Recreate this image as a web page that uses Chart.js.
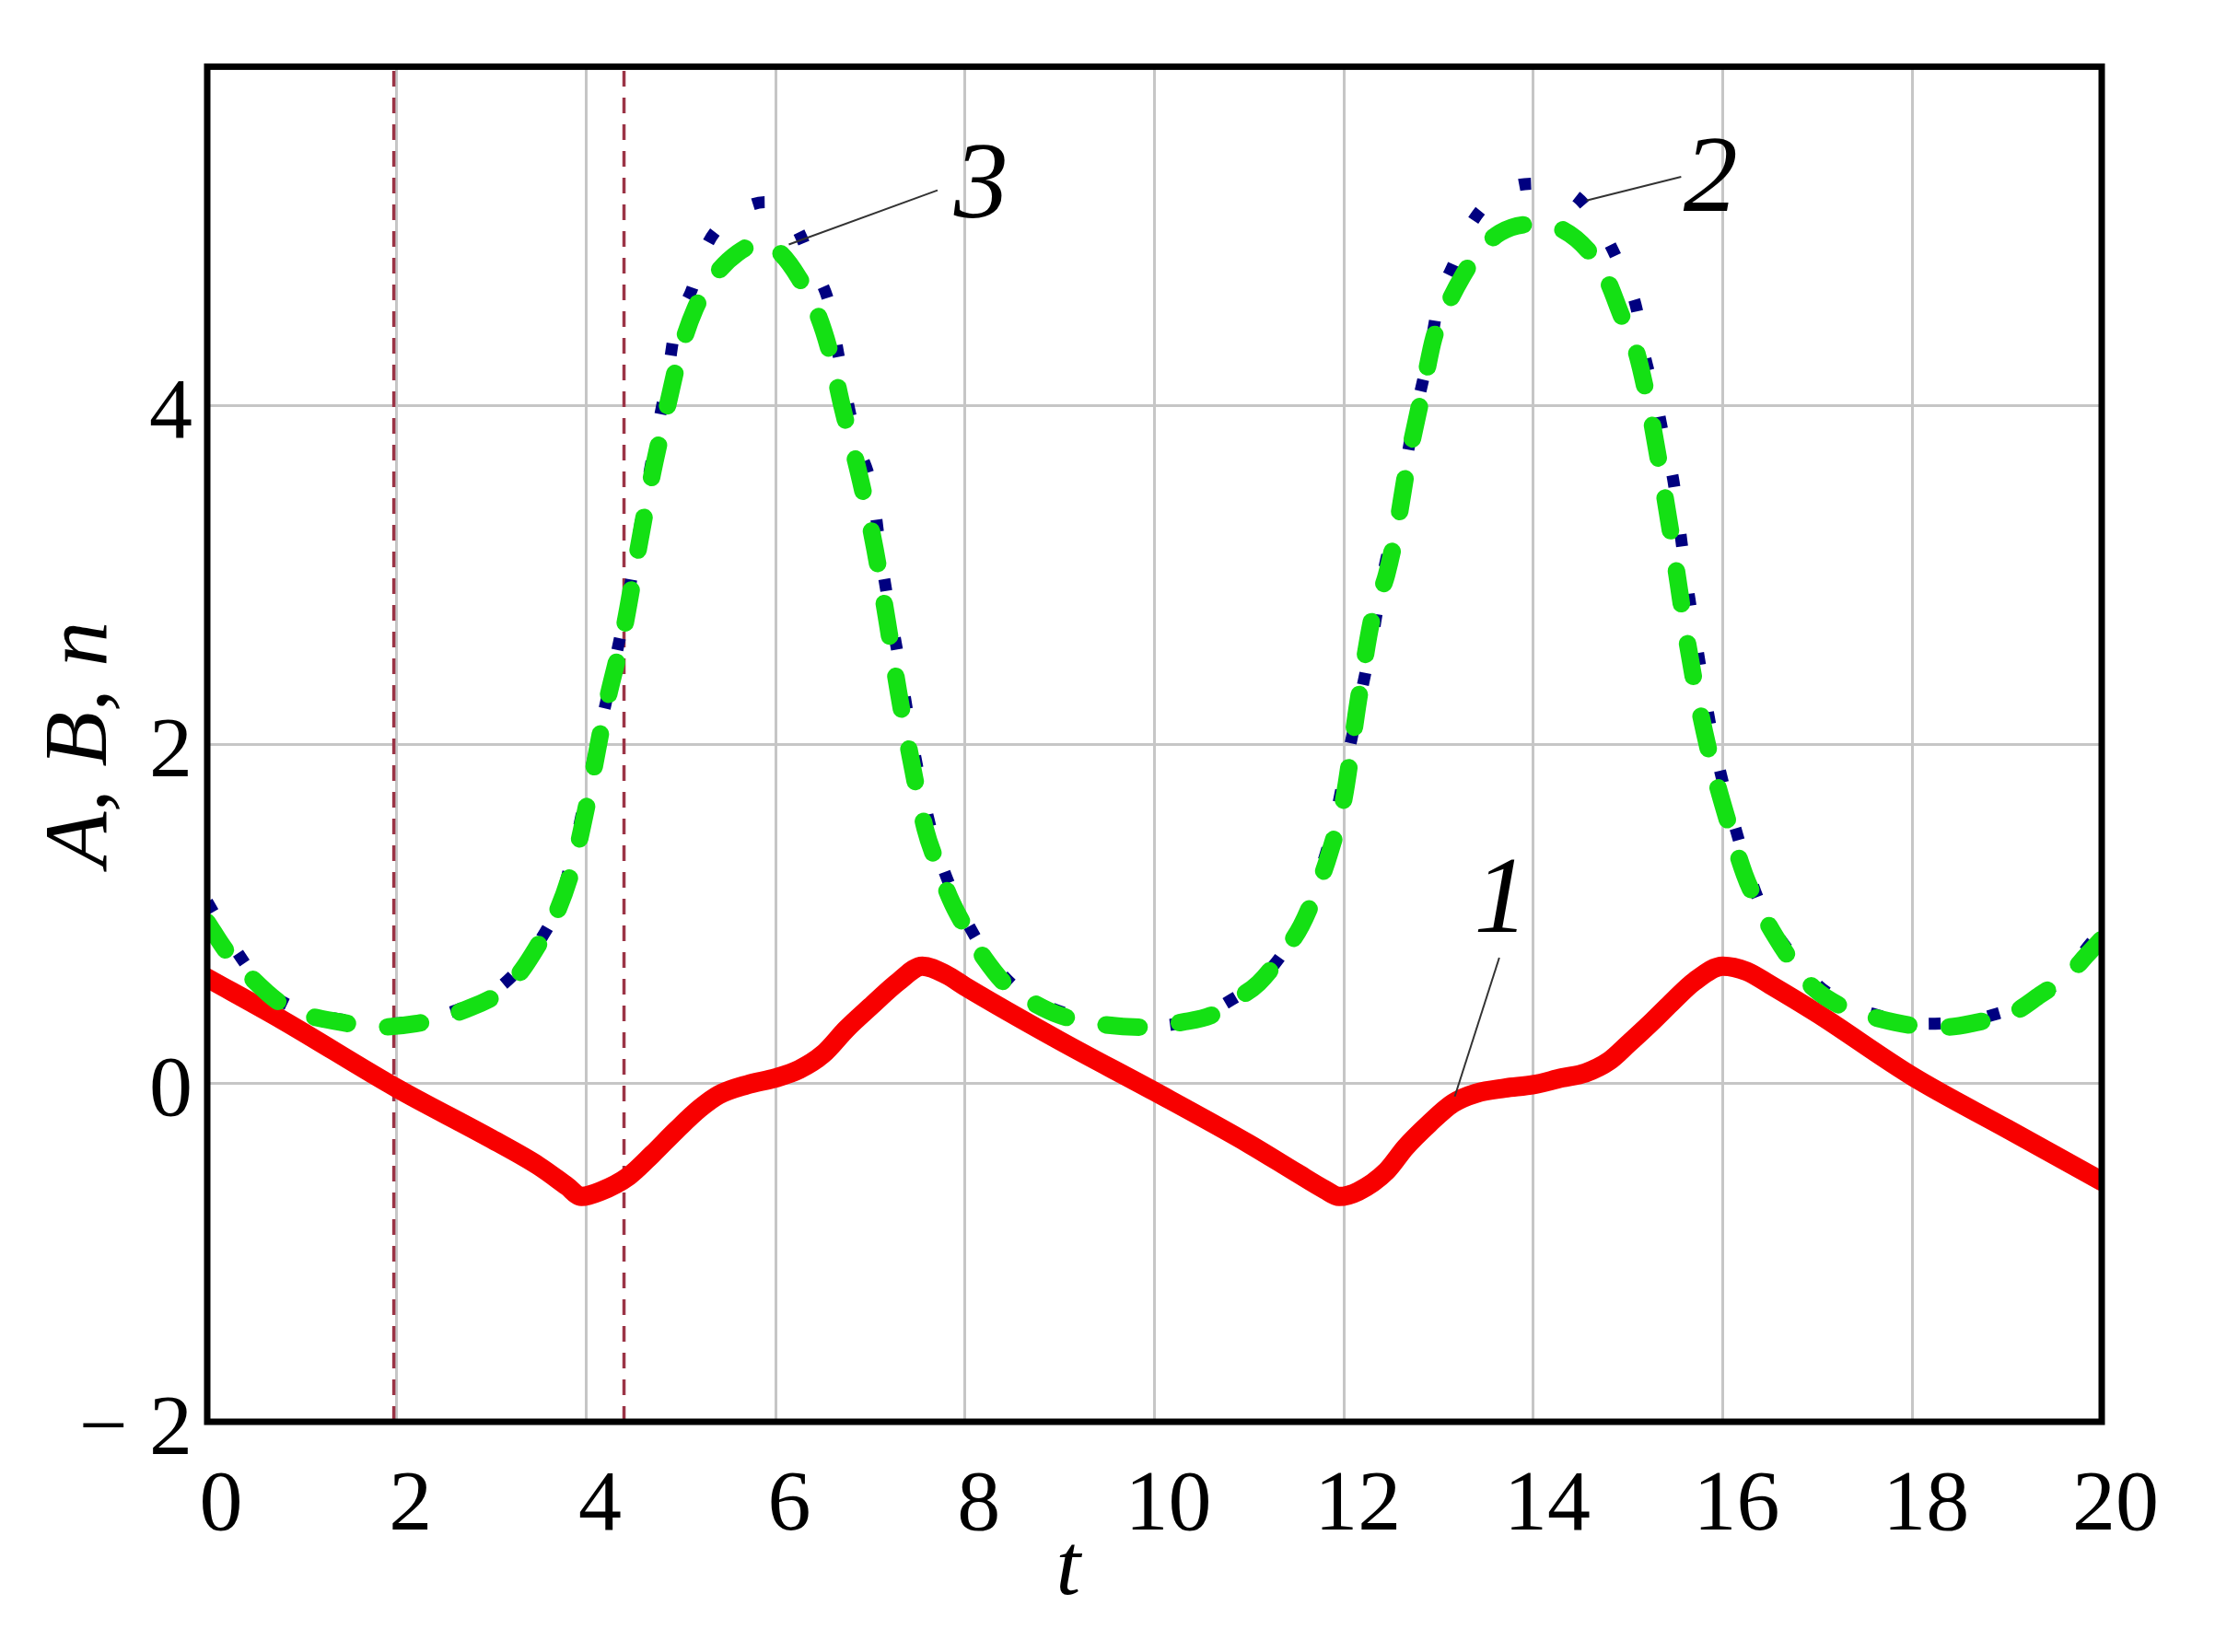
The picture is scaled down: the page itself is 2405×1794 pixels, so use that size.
<!DOCTYPE html>
<html>
<head>
<meta charset="utf-8">
<title>A, B, n (t)</title>
<script src="https://cdn.jsdelivr.net/npm/chart.js@4.4.1/dist/chart.umd.min.js"></script>
<style>
  body { margin: 0; background: #fff; }
  canvas { display: block; }
</style>
</head>
<body>
<canvas id="chart-abn" width="2405" height="1794"></canvas>
<script>
//=================================================================
// DATA
//=================================================================

// curve 1 - red solid
const t1 = [0, 0.8, 2.0, 3.0, 3.5, 3.8, 3.95, 4.15, 4.45, 4.7, 4.95, 5.2, 5.4, 5.7, 6.0, 6.25, 6.5, 6.75, 7.0, 7.3, 7.55,
            7.8, 8.0, 9.0, 10.0, 11.0, 11.5, 11.8, 11.95, 12.15, 12.45, 12.65, 12.9, 13.15, 13.4, 13.7, 14.0, 14.3, 14.55, 14.8,
            15.0, 15.25, 15.45, 15.7, 16.0, 16.25, 16.5, 17.0, 18.0, 19.0, 20.0];
const curve1 = [0.62, 0.37, -0.03, -0.33, -0.49, -0.61, -0.67, -0.64, -0.55, -0.42, -0.28, -0.15, -0.07, -0.01, 0.03, 0.08, 0.17, 0.32, 0.45, 0.60, 0.69,
                0.64, 0.57, 0.25, -0.05, -0.36, -0.53, -0.63, -0.67, -0.64, -0.52, -0.38, -0.24, -0.12, -0.06, -0.03, -0.01, 0.03, 0.06, 0.13,
                0.23, 0.36, 0.47, 0.60, 0.69, 0.66, 0.58, 0.41, 0.04, -0.27, -0.58];

// curve 2 - navy dotted
const t2 = [0, 0.24, 0.5, 0.71, 1.0, 1.47, 1.9, 2.3, 2.68, 3.0, 3.27, 3.5, 3.72, 3.9, 4.05, 4.25, 4.45, 4.6, 4.75, 4.86,
            4.93, 5.12, 5.27, 5.52, 5.89, 6.19, 6.4, 6.58, 6.66, 6.85, 7.02, 7.13, 7.3, 7.45, 7.64, 7.85, 8.05, 8.25, 8.5, 8.8,
            9.2, 9.6, 10.08, 10.5, 10.81, 11.1, 11.36, 11.6, 11.75, 11.89, 12.05, 12.2, 12.3, 12.43, 12.56, 12.71, 12.91, 13.0,
            13.17, 13.32, 13.63, 14.03, 14.46, 14.71, 14.91, 15.09, 15.17, 15.29, 15.38, 15.48, 15.54, 15.6, 15.75, 15.9, 16.14,
            16.4, 16.71, 17.0, 17.33, 17.7, 18.05, 18.5, 18.9, 19.28, 19.6, 19.89, 20];
const curve2 = [1.07, 0.84, 0.63, 0.51, 0.43, 0.37, 0.35, 0.38, 0.44, 0.53, 0.66, 0.83, 1.07, 1.45, 1.85, 2.35, 2.89, 3.39, 3.85, 4.17,
                4.42, 4.69, 4.94, 5.11, 5.20, 5.08, 4.82, 4.57, 4.31, 3.80, 3.50, 3.04, 2.50, 2.00, 1.50, 1.15, 0.92, 0.74, 0.58, 0.47,
                0.39, 0.35, 0.34, 0.40, 0.49, 0.60, 0.77, 1.00, 1.25, 1.52, 1.95, 2.35, 2.62, 3.05, 3.34, 3.83, 4.34, 4.61,
                4.85, 5.05, 5.25, 5.31, 5.23, 5.05, 4.83, 4.57, 4.31, 4.05, 3.80, 3.55, 3.30, 3.04, 2.50, 2.02, 1.49,
                1.05, 0.77, 0.58, 0.46, 0.39, 0.35, 0.36, 0.41, 0.49, 0.63, 0.83, 0.90];

// curve 3 - green dashed
const t3 = [0, 0.2, 0.45, 0.75, 1.0, 1.4, 1.8, 2.2, 2.5, 2.8, 3.05, 3.3, 3.5, 3.7, 3.87, 4.0, 4.2, 4.4, 4.55, 4.7,
            4.86, 5.0, 5.15, 5.35, 5.6, 5.85, 6.05, 6.25, 6.45, 6.58, 6.7, 6.9, 7.05, 7.18, 7.3, 7.45, 7.58, 7.7, 7.85, 8.0,
            8.2, 8.45, 8.7, 9.0, 9.4, 9.85, 10.3, 10.6, 10.85, 11.1, 11.35, 11.55, 11.72, 11.85, 12.0, 12.15, 12.3, 12.45,
            12.55, 12.68, 12.83, 12.95, 13.1, 13.25, 13.4, 13.65, 14.0, 14.3, 14.6, 14.78, 14.93, 15.07, 15.2, 15.34, 15.45,
            15.53, 15.62, 15.75, 15.9, 16.05, 16.23, 16.4, 16.55, 16.75, 16.96, 17.3, 17.65, 18.0, 18.35, 18.7, 19.05, 19.35,
            19.65, 19.85, 20];
const curve3 = [0.95, 0.78, 0.63, 0.48, 0.41, 0.36, 0.33, 0.35, 0.39, 0.45, 0.52, 0.65, 0.82, 1.02, 1.30, 1.62, 2.20, 2.68, 3.15, 3.60,
                4.00, 4.33, 4.57, 4.76, 4.90, 4.96, 4.90, 4.75, 4.53, 4.30, 4.00, 3.55, 3.15, 2.72, 2.30, 1.85, 1.50, 1.30, 1.08, 0.92,
                0.74, 0.57, 0.48, 0.40, 0.35, 0.33, 0.36, 0.40, 0.49, 0.59, 0.76, 0.93, 1.15, 1.36, 1.68, 2.25, 2.75, 3.00,
                3.25, 3.68, 4.08, 4.40, 4.60, 4.76, 4.89, 5.02, 5.07, 5.04, 4.90, 4.74, 4.53, 4.35, 4.05, 3.62, 3.25,
                2.95, 2.62, 2.22, 1.85, 1.55, 1.23, 1.02, 0.87, 0.70, 0.56, 0.44, 0.38, 0.34, 0.33, 0.36, 0.41, 0.52,
                0.64, 0.76, 0.85];

// vertical dashed markers
const markerT = [1.97, 4.4];

// axes
const xTicks = [0, 2, 4, 6, 8, 10, 12, 14, 16, 18, 20];
const yTicks = [-2, 0, 2, 4, 6];
const yTickLabels = ['\u2212 2', '0', '2', '4', ''];

// curve labels: [text, label t, label value, leader start t, start value, leader end t, end value]
const curveLabels = [
    ['1', 13.66, 1.06, 13.64, 0.74, 13.17, -0.08],
    ['2', 15.87, 5.32, 15.56, 5.35, 14.56, 5.21],
    ['3', 8.17, 5.28, 7.71, 5.27, 6.14, 4.95]
];

//=================================================================
// CHART
//=================================================================
const SERIF = '"Liberation Serif", "Times New Roman", serif';
const pts = (xs, ys) => xs.map((x, i) => ({ x: x, y: ys[i] }));

const frameAndLabels = {
    id: 'frameAndLabels',
    afterDraw(chart) {
        const { ctx, chartArea: a, scales: { x, y } } = chart;
        ctx.save();
        // frame
        ctx.strokeStyle = '#000';
        ctx.lineWidth = 7;
        ctx.strokeRect(a.left, a.top, a.right - a.left, a.bottom - a.top);
        // leader lines + curve numbers
        ctx.strokeStyle = '#333';
        ctx.lineWidth = 2;
        ctx.fillStyle = '#000';
        ctx.font = 'italic 118px ' + SERIF;
        ctx.textAlign = 'center';
        ctx.textBaseline = 'middle';
        curveLabels.forEach(l => {
            ctx.beginPath();
            ctx.moveTo(x.getPixelForValue(l[3]), y.getPixelForValue(l[4]));
            ctx.lineTo(x.getPixelForValue(l[5]), y.getPixelForValue(l[6]));
            ctx.stroke();
            ctx.fillText(l[0], x.getPixelForValue(l[1]), y.getPixelForValue(l[2]));
        });
        // x axis title
        ctx.font = 'italic 96px ' + SERIF;
        ctx.fillText('t', x.getPixelForValue(9.09), y.getPixelForValue(-2.88));
        ctx.restore();
    }
};

const markerSets = markerT.map(t => ({
    label: 't = ' + t,
    data: [{ x: t, y: -2 }, { x: t, y: 6 }],
    borderColor: '#9b3446',
    borderWidth: 3.5,
    borderDash: [17, 12],
    pointRadius: 0
}));

new Chart(document.getElementById('chart-abn'), {
    type: 'line',
    data: {
        datasets: [
            {
                label: '3',
                data: pts(t3, curve3),
                borderColor: '#14e014',
                borderWidth: 19,
                borderDash: [36, 44],
                borderCapStyle: 'round',
                cubicInterpolationMode: 'monotone',
                pointRadius: 0
            },
            {
                label: '2',
                data: pts(t2, curve2),
                borderColor: '#000080',
                borderWidth: 13,
                borderDash: [13, 52],
                borderCapStyle: 'butt',
                cubicInterpolationMode: 'monotone',
                pointRadius: 0
            },
            {
                label: '1',
                data: pts(t1, curve1),
                borderColor: '#f80000',
                borderWidth: 21,
                borderCapStyle: 'round',
                borderJoinStyle: 'round',
                cubicInterpolationMode: 'monotone',
                pointRadius: 0
            },
            ...markerSets
        ]
    },
    options: {
        responsive: false,
        devicePixelRatio: 1,
        animation: false,
        layout: { padding: { top: 66, right: 123, left: 0, bottom: 0 } },
        plugins: {
            legend: { display: false },
            tooltip: { enabled: false }
        },
        scales: {
            x: {
                type: 'linear',
                min: 0,
                max: 20,
                afterBuildTicks: s => { s.ticks = xTicks.map(v => ({ value: v })); },
                afterFit: s => { s.height = 250; },
                ticks: {
                    color: '#000',
                    font: { family: SERIF, size: 94 },
                    padding: 36,
                    labelOffset: 15,
                    maxRotation: 0,
                    autoSkip: false
                },
                grid: { color: '#c6c6c6', lineWidth: 3, drawTicks: false },
                border: { display: false }
            },
            y: {
                type: 'linear',
                min: -2,
                max: 6,
                afterBuildTicks: s => { s.ticks = yTicks.map(v => ({ value: v })); },
                afterFit: s => { s.width = 225; },
                ticks: {
                    color: '#000',
                    font: { family: SERIF, size: 94 },
                    padding: 16,
                    labelOffset: 10,
                    callback: v => yTickLabels[yTicks.indexOf(v)]
                },
                grid: { color: '#c6c6c6', lineWidth: 3, drawTicks: false },
                border: { display: false },
                title: {
                    display: true,
                    text: 'A, B, n',
                    color: '#000',
                    font: { family: SERIF, style: 'italic', size: 98 },
                    padding: { top: 30, bottom: 0 }
                }
            }
        }
    },
    plugins: [frameAndLabels]
});
</script>
</body>
</html>
